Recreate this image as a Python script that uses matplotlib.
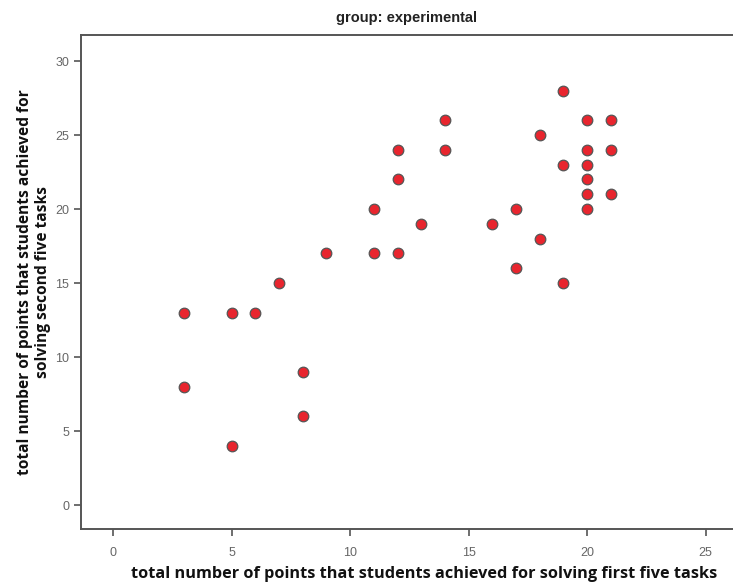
"""Scatter of first vs second five-task points, experimental group."""

import matplotlib

matplotlib.use("Agg")

import matplotlib.pyplot as plt

first_tasks = [3, 3, 5, 5, 6, 7, 8, 8, 9, 11, 11, 12, 12, 12, 13, 14, 14,
               16, 17, 17, 18, 18, 19, 19, 19, 20, 20, 20, 20, 20, 20, 21, 21, 21]
second_tasks = [13, 8, 13, 4, 13, 15, 9, 6, 17, 20, 17, 24, 22, 17, 19, 26, 24,
                19, 20, 16, 25, 18, 28, 23, 15, 26, 24, 23, 22, 21, 20, 26, 24, 21]
x_ticks = [0, 5, 10, 15, 20, 25]
y_ticks = [0, 5, 10, 15, 20, 25, 30]

NARROW = ["Liberation Sans", "DejaVu Sans"]
LABEL = ["Open Sans", "DejaVu Sans"]

fig = plt.figure(figsize=(7.33, 5.83), dpi=100)
ax = fig.add_axes([0.1105, 0.0926, 0.8895, 0.8474])

ax.scatter(first_tasks, second_tasks, s=58, color="#e8252e",
           edgecolors="#555555", linewidths=0.9, zorder=3)

ax.set_xlim(-1.35, 26.15)
ax.set_ylim(-1.62, 31.76)
ax.set_xticks(x_ticks)
ax.set_yticks(y_ticks)

for side in ("left", "bottom", "top"):
    ax.spines[side].set_color("#555555")
    ax.spines[side].set_linewidth(1.4)
ax.spines["right"].set_visible(False)

ax.tick_params(direction="out", length=5, width=1.2, color="#555555",
               labelcolor="#666666", labelsize=9)
ax.tick_params(axis="x", pad=8)
for label in ax.get_xticklabels() + ax.get_yticklabels():
    label.set_family(NARROW)

ax.set_title("group: experimental", family=NARROW, fontweight="bold",
             fontsize=10.5, color="#222222", pad=9)
ax.set_xlabel("total number of points that students achieved for solving first five tasks",
              family=LABEL, fontweight="bold", fontsize=11.7, color="#111111")
ax.xaxis.set_label_coords(0.527, -0.075)
ax.set_ylabel("total number of points that students achieved for\nsolving second five tasks",
              family=LABEL, fontweight="bold", fontsize=11.2, color="#111111",
              linespacing=1.15)
ax.yaxis.set_label_coords(-0.046, 0.5)

fig.savefig("out.png", dpi=100)
plt.close(fig)
